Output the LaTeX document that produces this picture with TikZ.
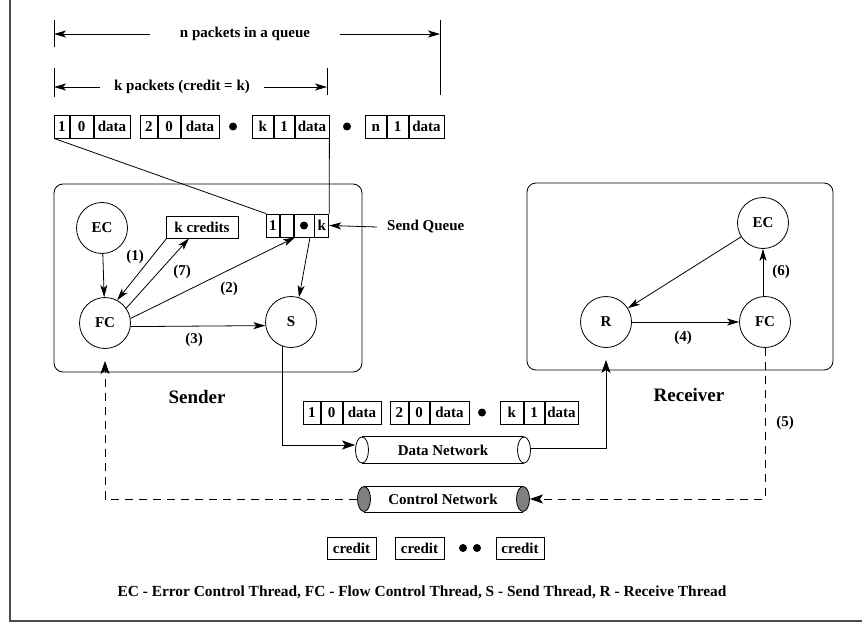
\documentclass[tikz,border=0pt]{standalone}
\usepackage{fontspec}
\setmainfont{Liberation Serif}
\usetikzlibrary{arrows.meta,shapes.geometric}
\newcommand{\pkt}[8]{%
  \node[cell,minimum width=#4pt] (#1a) at (#2,#3) {#7};
  \node[cell,minimum width=#5pt] (#1b) at (#1a.east) {#8};
  \node[cell,minimum width=#6pt] (#1c) at (#1b.east) {data};}
\begin{document}
\begin{tikzpicture}[x=1pt,y=-1pt,
  every node/.style={font=\fontsize{15}{18}\selectfont\bfseries},
  line/.style={line width=0.8pt},
  arr/.style={line width=0.8pt,-{Stealth[length=12pt,width=7pt,inset=3pt]}},
  bigarr/.style={line width=0.8pt,-{Stealth[length=13pt,width=9pt,inset=3pt]}},
  dsh/.style={dash pattern=on 8pt off 6pt},
  cell/.style={draw,line width=0.8pt,inner sep=0pt,minimum height=23pt,anchor=west,text height=10.5pt,text depth=0pt},
  thread/.style={circle,draw,line width=0.8pt,minimum size=51pt,inner sep=0pt},
  dotn/.style={circle,fill,inner sep=0pt,minimum size=8pt},
  credbox/.style={draw,line width=0.8pt,inner sep=0pt,minimum height=22pt,text height=10.5pt,text depth=0pt},
  pipeend/.style={ellipse,draw,fill=white,line width=0.8pt,inner sep=0pt,minimum width=13pt,minimum height=26pt},
  biglabel/.style={font=\fontsize{19}{22}\selectfont\bfseries}
]
\useasboundingbox (0,0) rectangle (862,623);
\draw[line width=1.2pt,black!70] (10,0) -- (10,621) -- (862,621);

% dimension lines
\coordinate (nL) at (54,34);
\coordinate (nR) at (440,34);
\draw[line] (54,20) -- (54,47);
\draw[line] (440,20) -- (440,95);
\node[inner xsep=30pt] (nlab) at (245,34) {n packets in a queue};
\draw[arr] (nlab) -- (nL);
\draw[arr] (nlab) -- (nR);
\coordinate (kL) at (54,87);
\coordinate (kR) at (327,87);
\draw[line] (54,68) -- (54,97);
\draw[line] (327,68) -- (327,95);
\node[inner xsep=14pt] (klab) at (182,87) {k packets (credit = k)};
\draw[arr] (klab) -- (kL);
\draw[arr] (klab) -- (kR);

% packet row
\pkt{pa}{54}{126.5}{15}{23}{36}{1}{0}
\pkt{pb}{140}{126.5}{17}{22}{38}{2}{0}
\node[dotn] (da) at (233,126.5) {};
\pkt{pk}{252}{126.5}{21}{20}{34}{k}{1}
\node[dotn] (db) at (347,126.5) {};
\pkt{pn}{365}{126.5}{21}{21}{35}{n}{1}

% sender
\draw[line,rounded corners=9pt] (54,184) rectangle (362,372);
\node[thread] (ECs) at (102,228) {EC};
\node[thread] (FCs) at (105,323) {FC};
\node[thread] (S) at (291,322) {S};
\node[draw,line,inner sep=0pt,minimum width=72pt,minimum height=22pt] (kcred) at (202,227) {k credits};
\node[cell,minimum width=13pt] (sq1) at (266,225.5) {1};
\node[cell,minimum width=13pt] (sq2) at (sq1.east) {};
\node[cell,minimum width=20pt] (sq3) at (sq2.east) {};
\node[dotn] (sqd) at (sq3.center) {};
\node[cell,minimum width=14pt] (sq4) at (sq3.east) {k};
\node[inner sep=0pt,anchor=west] (sqlab) at (387,227) {Send Queue};
\draw[arr] ([xshift=-10pt]sqlab.west) -- (sq4.east);
\draw[line] (paa.south west) -- (sq1.north west);
\draw[line] (pkc.south east) -- (sq4.north east);

\draw[arr] (ECs) -- (FCs);
\draw[arr] ([xshift=1pt]kcred.south west) -- (FCs.62);
\draw[arr] (FCs.35) -- ([xshift=-13pt]kcred.south);
\draw[arr] (FCs.10) -- ([xshift=-9pt]sq3.south);
\draw[arr] (FCs.-8) -- (S.188);
\draw[arr] ([xshift=6pt]sq3.south) -- (S.72);
\node (l1) at (135,257) {(1)};
\node (l7) at (182,272) {(7)};
\node (l2) at (229,289) {(2)};
\node (l3) at (194,340) {(3)};
\node[biglabel] (sendlab) at (197,397) {Sender};

% receiver
\draw[line,rounded corners=9pt] (527,183) rectangle (833,370);
\node[thread] (ECr) at (763,223) {EC};
\node[thread] (FCr) at (765,322) {FC};
\node[thread] (R) at (606,322) {R};
\draw[arr] ([xshift=-2pt]FCr.north) -- (ECr.south);
\draw[arr] (ECr) -- (R);
\draw[arr] (R) -- (FCr);
\node (l4) at (683,338) {(4)};
\node (l6) at (781,272) {(6)};
\node[biglabel] (reclab) at (689,395) {Receiver};

% data packets
\pkt{qa}{303}{412.5}{17}{21}{38}{1}{0}
\pkt{qb}{390}{412.5}{18}{20}{39}{2}{0}
\node[dotn] (dc) at (482,412.5) {};
\pkt{qk}{500}{412.5}{23}{20}{33}{k}{1}

% data network
\node (datanet) at (443,450) {Data Network};
\node[pipeend] (dnl) at (362,450) {};
\node[pipeend] (dnr) at (524,450) {};
\draw[line] (dnl.north) -- (dnr.north);
\draw[line] (dnl.south) -- (dnr.south);

% control network
\node (ctrlnet) at (443,499) {Control Network};
\node[pipeend,fill=gray,minimum height=25pt] (cnl) at (364,499) {};
\node[pipeend,fill=gray,minimum height=25pt] (cnr) at (523,499) {};
\draw[line] (cnl.north) -- (cnr.north);
\draw[line] (cnl.south) -- (cnr.south);

% connectors
\draw[bigarr] (S.250) |- ([yshift=5pt]dnl.west);
\draw[bigarr,shorten >=12pt] ([yshift=2pt]dnr.east) -| (R);
\draw[bigarr,dsh,shorten >=12pt] (cnl.west) -| (FCs);
\draw[bigarr,dsh] (FCr) |- (cnr.east);
\node (l5) at (785,423) {(5)};

% credits
\node[credbox,minimum width=49pt] (c1) at (351.5,548) {credit};
\node[credbox,minimum width=49pt] (c2) at (419.5,548) {credit};
\node[dotn] (dd) at (463,548) {};
\node[dotn] (de) at (477,548) {};
\node[credbox,minimum width=48pt] (c3) at (520,548) {credit};

\node[font=\fontsize{15.4}{18}\selectfont\bfseries] (foot) at (422,592) {EC - Error Control Thread, FC - Flow Control Thread, S - Send Thread, R - Receive Thread};
\end{tikzpicture}
\end{document}
